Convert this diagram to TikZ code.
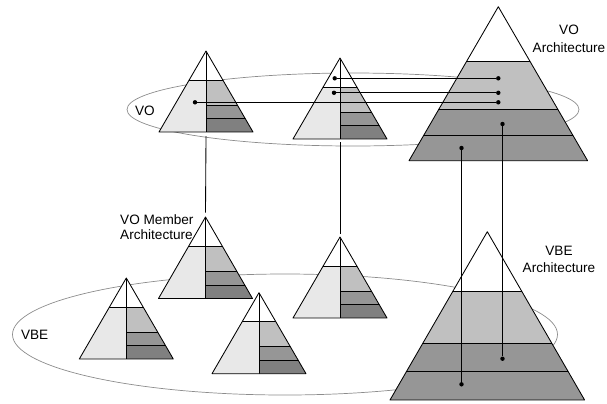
\documentclass[tikz,border=0pt]{standalone}
\usepackage{fontspec}
\setmainfont{Liberation Sans}
\definecolor{lightg}{HTML}{E8E8E8}
\definecolor{midg}{HTML}{C0C0C0}
\definecolor{darkg}{HTML}{969696}
\definecolor{deepg}{HTML}{808080}
\newcommand{\pyramid}[9]{%
  % name, apex x, apex y, half width, height, y1, y2, y3, kind (L = split, B = full layers)
  \coordinate (#1-top) at (#2,#3);
  \coordinate (#1-base) at (#2,#3+#5);
  \begin{scope}
    \clip (#2,#3) -- (#2+#4,#3+#5) -- (#2-#4,#3+#5) -- cycle;
    \fill[white] (#2-#4,#3) rectangle (#2+#4,#3+#5);
    \ifx#9L\relax
      \fill[lightg] (#2-#4,#3+#6) rectangle (#2,#3+#5);
      \fill[midg] (#2,#3+#6) rectangle (#2+#4,#3+#7);
      \fill[darkg] (#2,#3+#7) rectangle (#2+#4,#3+#8);
      \fill[deepg] (#2,#3+#8) rectangle (#2+#4,#3+#5);
      \draw[pyrline] (#2,#3) -- (#2,#3+#5);
      \draw[pyrline] (#2-#4,#3+#6) -- (#2+#4,#3+#6);
      \draw[pyrline] (#2,#3+#7) -- (#2+#4,#3+#7);
      \draw[pyrline] (#2,#3+#8) -- (#2+#4,#3+#8);
    \else
      \fill[midg] (#2-#4,#3+#6) rectangle (#2+#4,#3+#7);
      \fill[darkg] (#2-#4,#3+#7) rectangle (#2+#4,#3+#5);
      \draw[pyrline] (#2-#4,#3+#6) -- (#2+#4,#3+#6);
      \draw[pyrline] (#2-#4,#3+#7) -- (#2+#4,#3+#7);
      \draw[pyrline] (#2-#4,#3+#8) -- (#2+#4,#3+#8);
    \fi
  \end{scope}
  \draw[pyrline] (#2,#3) -- (#2+#4,#3+#5) -- (#2-#4,#3+#5) -- cycle;
}
\tikzset{
  x=1bp, y=-1bp,
  pyrline/.style={draw=black, line width=0.85bp, line join=round},
  group/.style={draw=gray!90, line width=0.7bp},
  link/.style={draw=black, line width=0.85bp},
  dot/.style={circle, fill=black, inner sep=0pt, minimum size=4.4bp},
  lbl/.style={font=\fontsize{13.6bp}{17.3bp}\selectfont, inner sep=0pt, align=center},
}
\begin{document}
\begin{tikzpicture}
\useasboundingbox (0,0) rectangle (607,403);
% group ellipses
\draw[group] (353,109.5) ellipse [x radius=226, y radius=36.5];
\draw[group] (285,334.5) ellipse [x radius=272.5, y radius=60.5];
% pyramids
\pyramid{pa}{206}{51}{47}{81}{29}{54}{67.5}{L}
\pyramid{pb}{340}{58}{47}{81}{29}{54}{67.5}{L}
\pyramid{pc}{205.5}{217}{47}{81.5}{29.5}{54.5}{68}{L}
\pyramid{pd}{340}{237}{47}{81}{29}{54}{67.5}{L}
\pyramid{pe}{126.3}{278}{47}{81}{29}{54}{67.5}{L}
\pyramid{pf}{259}{292.7}{47}{81}{29}{54}{67.5}{L}
\pyramid{big}{498.3}{6.7}{89.3}{154}{55}{102.6}{128.3}{B}
\pyramid{bot}{487.3}{231.7}{97.3}{168.3}{59.3}{112}{140}{B}
% vertical member connectors
\coordinate (pa-out) at ([yshift=-4bp]pa-base);
\coordinate (pc-in) at ([yshift=4.5bp]pc-top);
\coordinate (pb-out) at ([yshift=-3bp]pb-base);
\coordinate (pd-in) at ([yshift=3bp]pd-top);
\draw[link] (pa-out) -- (pc-in);
\draw[link] (pb-out) -- (pd-in);
% dots
\node[dot] (d1) at (195,102.3) {};
\node[dot] (d2) at (334.7,78.3) {};
\node[dot] (d3) at (334,92.8) {};
\node[dot] (e1) at (498.3,102.3) {};
\node[dot] (e2) at (498.3,78.3) {};
\node[dot] (e3) at (498.3,92.8) {};
\node[dot] (f1) at (461.5,148) {};
\node[dot] (f2) at (502.5,124) {};
\node[dot] (g1) at (461.5,384.3) {};
\node[dot] (g2) at (502.5,358.7) {};
\draw[link] (d1) -- (e1);
\draw[link] (d2) -- (e2);
\draw[link] (d3) -- (e3);
\draw[link] (f1) -- (g1);
\draw[link] (f2) -- (g2);
% labels
\node[lbl] (tvo) at (145,111) {VO};
\node[lbl] (tvbe) at (34.7,335) {VBE};
\node[lbl, font=\fontsize{13.6bp}{14.8bp}\selectfont, align=left, anchor=west] (tmem) at (120,227.3) {VO Member\\Architecture};
\node[lbl] (tarch1) at (569,38.7) {VO\\Architecture};
\node[lbl] (tarch2) at (559,259.7) {VBE\\Architecture};
\end{tikzpicture}
\end{document}
